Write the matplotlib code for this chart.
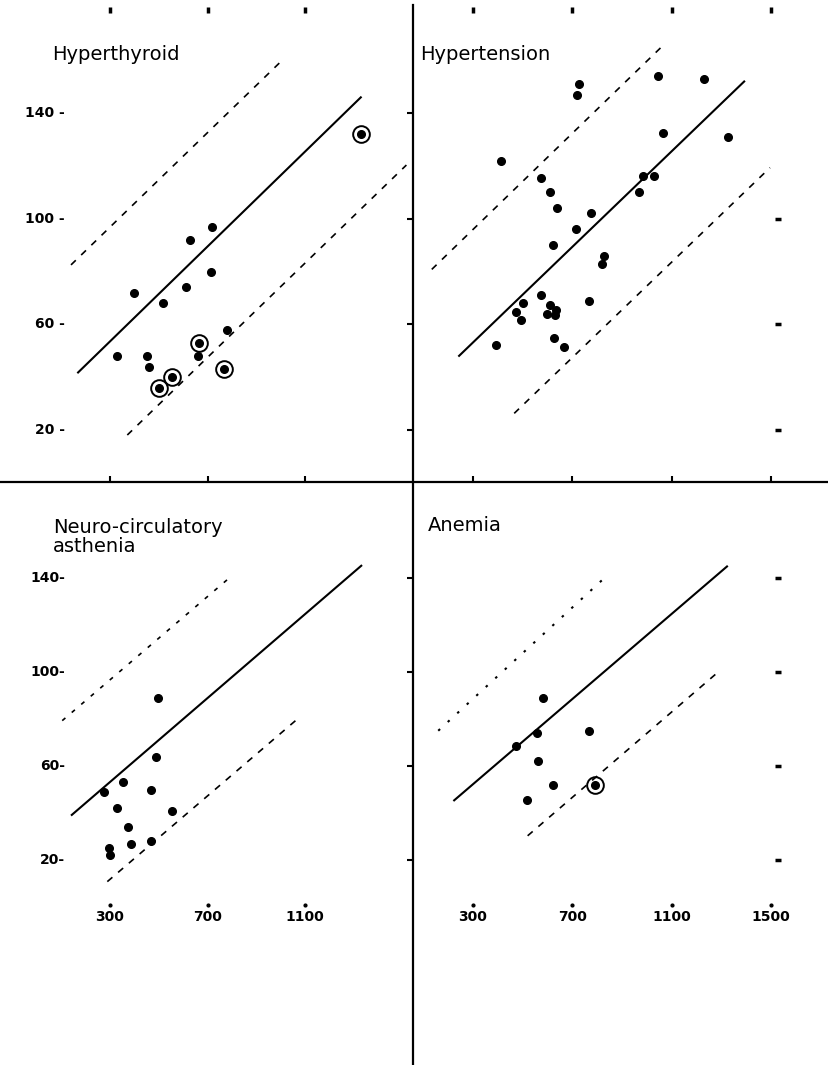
import matplotlib
matplotlib.use("Agg")
import matplotlib.pyplot as plt
from matplotlib.lines import Line2D

# --- data (x: ml, y: units) ---
hyper_x = [327, 400, 450, 459, 517, 612, 629, 717, 713, 660, 781]
hyper_y = [48, 72, 48, 44, 68, 74, 92, 97, 80, 48, 58]
hyper_circ_x = [1328, 665, 554, 500, 769]
hyper_circ_y = [132, 53, 40, 36, 43]

htn_x = [414, 575, 610, 640, 775, 716, 621, 826, 820, 573, 501, 769, 473, 493,
         609, 633, 598, 629, 393, 625, 668, 727, 720, 1044, 1230, 1066, 1328,
         986, 1028, 970]
htn_y = [122, 115.5, 110, 104, 102, 96, 90, 86, 83, 71, 68, 69, 64.5, 61.5,
         67.5, 65.5, 64, 63.5, 52, 55, 51.5, 151, 147, 154, 153, 132.5, 131,
         116, 116, 110]

nca_x = [496, 487, 277, 353, 467, 330, 553, 375, 386, 467, 297, 300]
nca_y = [89, 64, 49, 53, 50, 42, 41, 34, 27, 28, 25, 22]

anemia_x = [583, 558, 768, 473, 561, 621, 517]
anemia_y = [89, 74, 75, 68.5, 62, 52, 45.5]
anemia_circ_x = [791]
anemia_circ_y = [52]

# regression line and limits: (x0, x1), (y0, y1)
hyper_lines = {"solid": ([166, 1332], [41.5, 146.2]),
               "upper": ([140, 1008], [82.5, 160.1]),
               "lower": ([371, 1516], [18.1, 120.3])}
htn_lines = {"solid": ([241, 1395], [47.8, 152.2]),
             "upper": ([134, 1070], [80.8, 166.0]),
             "lower": ([466, 1496], [26.3, 119.3])}
nca_lines = {"solid": ([140, 1334], [38.9, 145.5]),
             "upper": ([104, 788], [79.3, 139.9]),
             "lower": ([289, 1069], [10.8, 80.0])}
anemia_lines = {"solid": ([221, 1326], [45.1, 145.2]),
                "upper": ([160, 825], [75.0, 139.6]),
                "lower": ([520, 1284], [30.3, 99.7])}

y_ticks = [140, 100, 60, 20]
x_ticks_left = [300, 700, 1100]
x_ticks_right = [300, 700, 1100, 1500]

W, H = 829, 1065
XDIV, YDIV = 413, 482  # pixel position of the cross


def lims(v0, p0, v1, p1, lo, hi):
    # data limits so that value v0 sits at pixel p0 and v1 at p1
    k = (v1 - v0) / (p1 - p0)
    return v0 + (lo - p0) * k, v0 + (hi - p0) * k


fig = plt.figure(figsize=(W / 100, H / 100), dpi=100)
fx = XDIV / W
fy = 1 - YDIV / H
ax_tl = fig.add_axes([0, fy, fx, 1 - fy])
ax_tr = fig.add_axes([fx, fy, 1 - fx, 1 - fy])
ax_bl = fig.add_axes([0, 0, fx, fy])
ax_br = fig.add_axes([fx, 0, 1 - fx, fy])

ax_tl.set_xlim(lims(300, 110, 1100, 305, 0, XDIV))
ax_bl.set_xlim(lims(300, 110, 1100, 305, 0, XDIV))
ax_tr.set_xlim(lims(300, 473, 1500, 771, XDIV, W))
ax_br.set_xlim(lims(300, 473, 1500, 771, XDIV, W))
ax_tl.set_ylim(lims(140, 113, 20, 430, YDIV, 0))
ax_tr.set_ylim(lims(140, 113, 20, 430, YDIV, 0))
ax_bl.set_ylim(lims(140, 578, 20, 860, H, YDIV))
ax_br.set_ylim(lims(140, 578, 20, 860, H, YDIV))

num_font = dict(fontsize=10, fontweight="bold", family="DejaVu Sans")
title_font = dict(fontsize=14, family="DejaVu Sans")

panels = [
    (ax_tl, hyper_x, hyper_y, hyper_circ_x, hyper_circ_y, hyper_lines),
    (ax_tr, htn_x, htn_y, [], [], htn_lines),
    (ax_bl, nca_x, nca_y, [], [], nca_lines),
    (ax_br, anemia_x, anemia_y, anemia_circ_x, anemia_circ_y, anemia_lines),
]

for ax, xs, ys, cx, cy, lines in panels:
    for s in ax.spines.values():
        s.set_visible(False)
    ax.set_xticks([])
    ax.set_yticks([])
    ax.plot(*lines["solid"], color="black", lw=1.5, solid_capstyle="butt")
    ax.plot(*lines["lower"], color="black", lw=1.2, dashes=(4, 4.5))
    ax.plot(xs, ys, "o", color="black", ms=5.5, ls="none")
    if cx:
        ax.plot(cx, cy, "o", color="black", ms=5.5, ls="none")
        ax.plot(cx, cy, "o", mfc="none", mec="black", mew=1.4, ms=12, ls="none")

ax_tl.plot(*hyper_lines["upper"], color="black", lw=1.2, dashes=(4, 4.5))
ax_tr.plot(*htn_lines["upper"], color="black", lw=1.2, dashes=(4, 4.5))
ax_bl.plot(*nca_lines["upper"], color="black", lw=1.2, dashes=(2.5, 5))
ax_br.plot(*anemia_lines["upper"], color="black", lw=1.5, dashes=(1.2, 5))

# ticks crossing the dividing lines
for ax in (ax_tl, ax_bl):
    ax.yaxis.tick_right()
    ax.set_yticks(y_ticks)
    ax.tick_params(axis="y", direction="inout", length=8, width=1.5,
                   labelright=False)
ax_tl.xaxis.tick_bottom()
ax_tl.set_xticks(x_ticks_left)
ax_tr.xaxis.tick_bottom()
ax_tr.set_xticks(x_ticks_right)
for ax in (ax_tl, ax_tr):
    ax.tick_params(axis="x", direction="inout", length=8, width=1.5,
                   labelbottom=False)

# y labels on the left panels
for ax, fmt in ((ax_tl, "{} -"), (ax_bl, "{}-")):
    for v in y_ticks:
        ax.text(0.157, v, fmt.format(v), transform=ax.get_yaxis_transform(),
                ha="right", va="center", **num_font)

# small marks along the top edge
for ax, xt in ((ax_tl, x_ticks_left), (ax_tr, x_ticks_right)):
    ax.plot(xt, [0.979] * len(xt), transform=ax.get_xaxis_transform(),
            marker="|", ms=5, mew=2.5, color="black", ls="none")

# small marks along the right edge
ax_tr.plot([0.877] * 3, y_ticks[1:], transform=ax_tr.get_yaxis_transform(),
           marker="_", ms=5, mew=2.5, color="black", ls="none")
ax_br.plot([0.877] * 4, y_ticks, transform=ax_br.get_yaxis_transform(),
           marker="_", ms=5, mew=2.5, color="black", ls="none")

# x labels in the bottom row
for ax, xt in ((ax_bl, x_ticks_left), (ax_br, x_ticks_right)):
    for v in xt:
        ax.text(v, 0.254, str(v), transform=ax.get_xaxis_transform(),
                ha="center", va="center", **num_font)
    ax.plot(xt, [0.275] * len(xt), transform=ax.get_xaxis_transform(),
            marker="o", ms=2, color="black", ls="none")

# panel names
ax_tl.text(0.126, 0.886, "Hyperthyroid", transform=ax_tl.transAxes,
           ha="left", va="center", **title_font)
ax_tr.text(0.017, 0.886, "Hypertension", transform=ax_tr.transAxes,
           ha="left", va="center", **title_font)
ax_bl.text(0.128, 0.905, "Neuro-circulatory\nasthenia", transform=ax_bl.transAxes,
           ha="left", va="center", linespacing=1.0, **title_font)
ax_br.text(0.036, 0.926, "Anemia", transform=ax_br.transAxes,
           ha="left", va="center", **title_font)

# the cross
fig.add_artist(Line2D([0, 1], [fy, fy], color="black", lw=1.6,
                      transform=fig.transFigure))
fig.add_artist(Line2D([fx, fx], [0, 0.995], color="black", lw=1.6,
                      transform=fig.transFigure))

fig.savefig("out.png", dpi=100)
